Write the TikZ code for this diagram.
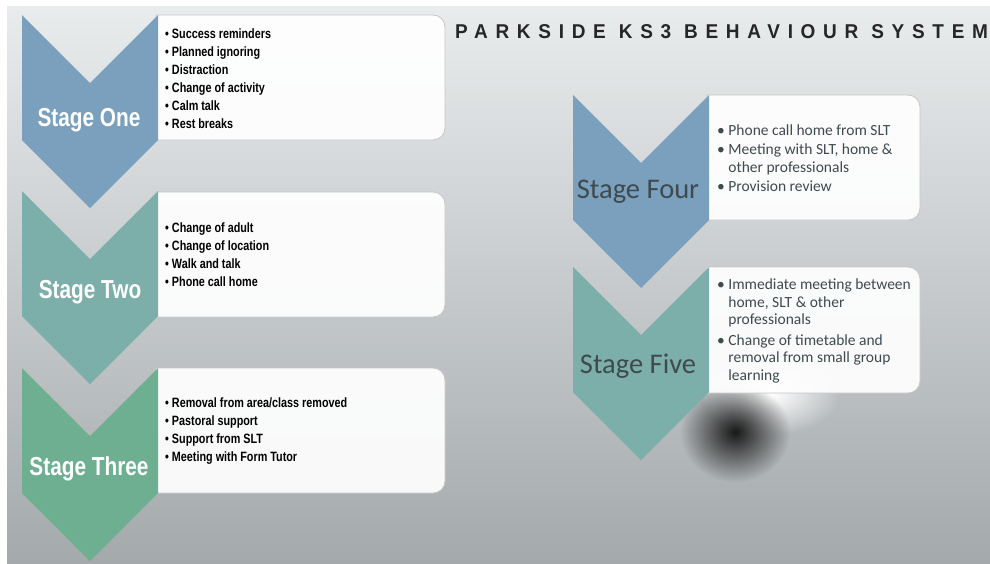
\documentclass[tikz,border=0pt]{standalone}
\usepackage{fontspec}
\setmainfont{Liberation Sans}
\newfontfamily\condfont[FakeStretch=0.8]{Liberation Sans}
\newfontfamily\bodyfont{Carlito}
\newfontfamily\titlefont[LetterSpace=38.5,FakeStretch=0.95]{Liberation Sans}
\usetikzlibrary{fadings}

\definecolor{stageblue}{HTML}{7AA0BE}
\definecolor{stageteal}{HTML}{7DAFAA}
\definecolor{stagegreen}{HTML}{6EAF91}
\definecolor{darktext}{HTML}{3E4A4E}
\definecolor{bgtop}{HTML}{E9ECED}
\definecolor{bgmid}{HTML}{C9CDD0}
\definecolor{bgbot}{HTML}{A4A9AC}

\tikzfading[name=softspot, inner color=transparent!0, outer color=transparent!100]

\tikzset{
  listbox/.style={fill=white, fill opacity=0.93, draw=gray!45, line width=0.8pt},
  leftlabel/.style={font=\condfont\bfseries\fontsize{26}{26}\selectfont, text=white, anchor=base},
  leftlist/.style={font=\condfont\bfseries\fontsize{13.5}{18}\selectfont, align=left, anchor=west, inner sep=0pt},
  rightlabel/.style={font=\bodyfont\fontsize{28.5}{28.5}\selectfont, text=darktext, anchor=base},
  rightlist/.style={font=\bodyfont\fontsize{15.5}{17.5}\selectfont, text=darktext, align=left, anchor=west, inner sep=0pt},
}

% chevron: left x, top y, colour
\newcommand{\stagechevron}[3]{%
  \fill[#3] (#1,#2) -- ++(68,68) -- ++(68,-68) -- ++(0,125) -- ++(-68,68) -- ++(-68,-68) -- cycle;}
% box: left x, top y, right x, bottom y
\newcommand{\stagebox}[4]{%
  \draw[listbox] (#1,#2) [rounded corners=12pt] -- (#3,#2) -- (#3,#4) [sharp corners] -- (#1,#4) -- cycle;}

\begin{document}
\begin{tikzpicture}[x=1pt, y=-1pt]
  \useasboundingbox (0,0) rectangle (990,563);
  % background
  \shade[top color=bgtop, middle color=bgmid, bottom color=bgbot] (7,6) rectangle (990,563);
  \fill[white, path fading=softspot] (770,395) ellipse (70 and 40);
  \fill[black!90, path fading=softspot] (735,432) ellipse (55 and 50);

  % title
  \node[font=\titlefont\bfseries\fontsize{20}{20}\selectfont, text=black!85, anchor=base west, inner sep=0pt]
    (title) at (455,38) {PARKSIDE KS3 BEHAVIOUR SYSTEM};

  % boxes
  \stagebox{156}{15}{445}{140}
  \stagebox{156}{192}{445}{317}
  \stagebox{156}{368}{445}{493}
  \stagebox{707}{95}{920}{220}
  \stagebox{707}{267}{920}{393}

  % chevrons
  \stagechevron{22}{15}{stageblue}
  \stagechevron{22}{191}{stageteal}
  \stagechevron{22}{368}{stagegreen}
  \stagechevron{573}{95}{stageblue}
  \stagechevron{573}{267}{stageteal}

  % stage names
  \node[leftlabel] (one) at (89,126) {Stage One};
  \node[leftlabel] (two) at (90,298) {Stage Two};
  \node[leftlabel] (three) at (89,475) {Stage Three};
  \node[rightlabel] (four) at (638,198) {Stage Four};
  \node[rightlabel] (five) at (638,373) {Stage Five};

  % lists
  \node[leftlist] (onelist) at (165,79) {%
    \textbullet\ Success reminders\\ \textbullet\ Planned ignoring\\ \textbullet\ Distraction\\
    \textbullet\ Change of activity\\ \textbullet\ Calm talk\\ \textbullet\ Rest breaks};
  \node[leftlist] (twolist) at (165,255) {%
    \textbullet\ Change of adult\\ \textbullet\ Change of location\\
    \textbullet\ Walk and talk\\ \textbullet\ Phone call home};
  \node[leftlist] (threelist) at (165,431) {%
    \textbullet\ Removal from area/class removed\\ \textbullet\ Pastoral support\\
    \textbullet\ Support from SLT\\ \textbullet\ Meeting with Form Tutor};
  \node[rightlist] (fourlist) at (717,158) {%
    \textbullet\ Phone call home from SLT\\[2pt]
    \textbullet\ Meeting with SLT, home \&\\ \phantom{\textbullet\ }other professionals\\[2pt]
    \textbullet\ Provision review};
  \node[rightlist] (fivelist) at (717,331) {%
    \textbullet\ Immediate meeting between\\ \phantom{\textbullet\ }home, SLT \& other\\
    \phantom{\textbullet\ }professionals\\[3pt]
    \textbullet\ Change of timetable and\\ \phantom{\textbullet\ }removal from small group\\
    \phantom{\textbullet\ }learning};
\end{tikzpicture}
\end{document}
